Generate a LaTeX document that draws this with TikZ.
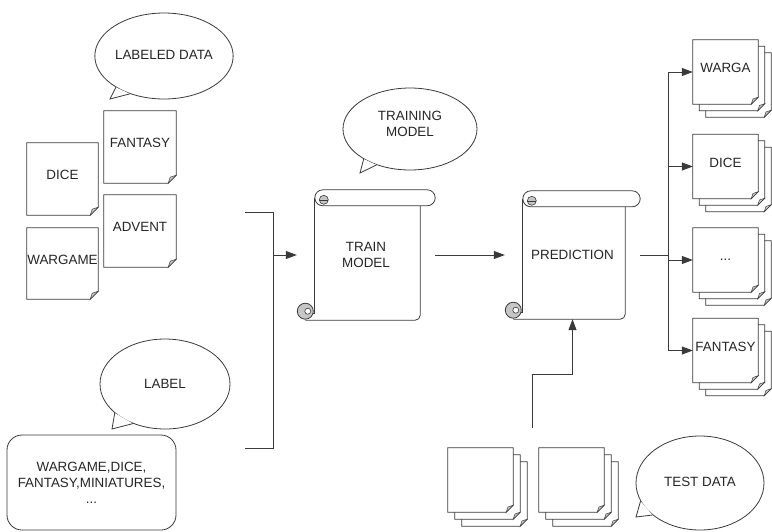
\documentclass[tikz,border=0pt]{standalone}
\usepackage{fontspec}
\setmainfont{Liberation Sans}
\usetikzlibrary{shapes.geometric,arrows.meta,calc}

\pgfdeclarelayer{pagesback}
\pgfdeclarelayer{pagesfront}
\pgfsetlayers{pagesback,pagesfront,main}

\definecolor{ink}{HTML}{3A3A3A}
\definecolor{curl}{HTML}{C6C6C6}

\tikzset{
  base/.style={line width=0.8pt, draw=ink},
  txt/.style={font=\fontsize{13.4}{16}\selectfont, text=black!85},
  arr/.style={base, -{Triangle[length=11pt,width=8pt]}},
  % text sits a little above the middle of a sheet
  page/.style 2 args={txt, inner sep=0pt, text height=9.6pt, text depth=8pt,
    minimum width=#1pt, minimum height=#2pt, align=center},
  bubble/.style 2 args={base, fill=white, ellipse, inner sep=0pt, minimum width=#1pt, minimum height=#2pt, txt, align=center},
  scrollnode/.style 2 args={txt, inner sep=0pt, minimum width=#1pt, minimum height=#2pt, align=center},
}

% sheet with a dog-eared bottom-right corner, the size of node #1,
% shifted by (#2,#3), fold size #4
\newcommand\sheet[4]{%
  \draw[base, fill=white]
    ([shift={(#2,#3)}]#1.north west) -- ([shift={(#2,#3)}]#1.north east)
    -- ([shift={(#2,#3-#4)}]#1.south east) -- ([shift={(#2-#4,#3)}]#1.south east)
    -- ([shift={(#2,#3)}]#1.south west) -- cycle;
  \filldraw[base, fill=curl, line width=0.5pt]
    ([shift={(#2,#3-#4)}]#1.south east) -- ([shift={(#2-#4,#3)}]#1.south east)
    -- ([shift={(#2-0.75*#4,#3-0.75*#4)}]#1.south east) -- cycle;
}

% scroll outline around node #1
\newcommand\scrollbody[1]{%
  % body fill
  \fill[white] ($(#1.north west)+(18,8)$) -- ($(#1.north east)+(-15,8)$)
    -- ($(#1.south east)+(-15,0)$) -- ($(#1.south west)+(8,0)$) -- cycle;
  % right edge and bottom edge
  \draw[base, rounded corners=5pt] ($(#1.north east)+(-15,16)$)
    -- ($(#1.south east)+(-15,0)$) -- ($(#1.south west)+(8.5,0)$);
  % left edge
  \draw[base] ($(#1.north west)+(18,8)$) -- ($(#1.south west)+(18,-7)$)
    -- ($(#1.south west)+(12,-7)$);
  % top roll
  \draw[base, fill=white, rounded corners=8pt] ($(#1.north west)+(18,0)$) rectangle ($(#1.north east)+(0,16)$);
  \filldraw[base, fill=curl, line width=0.6pt] ($(#1.north west)+(27,10)$) circle (4.5pt);
  \draw[base, line width=0.6pt] ($(#1.north west)+(22.5,10)$) -- ($(#1.north west)+(31.5,10)$);
  % bottom curl
  \filldraw[base, fill=curl] ($(#1.south west)+(8.5,-9)$) circle (8pt);
  \filldraw[base, fill=white, line width=0.6pt] ($(#1.south west)+(11,-9)$) circle (3pt);
}

\begin{document}
\begin{tikzpicture}[x=1pt, y=-1pt]
\useasboundingbox (0,0) rectangle (772,531);

% ---------- callouts ----------
\node[bubble={128}{86}] (cLD) at (164,56) {LABELED DATA\vphantom{g}};
\coordinate (tLD) at (110,99);
\node[bubble={134}{82}, label={[txt, align=center, yshift=5pt]center:TRAINING\\MODEL}] (cTM) at (410,129) {};
\coordinate (tTM) at (360,173);
\node[bubble={130}{90}] (cLB) at (165,384) {LABEL};
\coordinate (tLB) at (112,429);
\node[bubble={128}{94}] (cTD) at (700,483) {TEST DATA\vphantom{g}};
\coordinate (tTD) at (636,517);

\foreach \c/\a/\b in {LD/213/228, TM/213/227, LB/210/231, TD/197/214}{
  \fill[white] (c\c.\a) -- (t\c) -- (c\c.\b) -- cycle;
  \draw[base] (c\c.\a) -- (t\c) -- (c\c.\b);
}

% ---------- labeled data sheets ----------
\node[page={71}{72}] (dDice) at (62.5,179) {DICE};
\node[page={71}{71}] (dWar)  at (62.5,263.5) {WARGAME};
\node[page={72}{72}] (dFan)  at (140,147) {FANTASY};
\node[page={72}{72}] (dAdv)  at (140,231) {ADVENT};
\begin{pgfonlayer}{pagesfront}
  \foreach \n in {dDice,dWar,dFan,dAdv}{\sheet{\n}{0}{0}{8}}
\end{pgfonlayer}

% ---------- label box ----------
\node[base, draw, fill=white, rounded corners=15pt, minimum width=169pt, minimum height=95pt,
      txt, align=center] (lbox) at (91.5,482.5) {WARGAME,DICE,\\FANTASY,MINIATURES,\\...};

% ---------- scrolls ----------
\node[scrollnode={138}{130}] (train) at (366,255) {TRAIN\\MODEL};
\node[scrollnode={135}{128}] (pred)  at (572.5,255) {PREDICTION};
\begin{pgfonlayer}{pagesfront}
  \scrollbody{train}
  \scrollbody{pred}
\end{pgfonlayer}

% ---------- output stacks ----------
\node[page={65}{64}] (o1) at (725.5,72)    {WARGA};
\node[page={65}{64}] (o2) at (725.5,166.5) {DICE};
\node[page={65}{64}] (o3) at (725.5,260)   {...};
\node[page={65}{64}] (o4) at (725.5,350.5) {FANTASY};
% ---------- test data stacks ----------
\node[page={65}{64}] (t1) at (480.5,480) {};
\node[page={65}{64}] (t2) at (571.5,480) {};

\begin{pgfonlayer}{pagesback}
  \foreach \n in {o1,o2,o3,o4}{\sheet{\n}{13}{13}{7}\sheet{\n}{6.5}{6.5}{7}}
  \foreach \n in {t1,t2}{\sheet{\n}{14}{14}{7}\sheet{\n}{7}{7}{7}}
\end{pgfonlayer}
\begin{pgfonlayer}{pagesfront}
  \foreach \n in {o1,o2,o3,o4,t1,t2}{\sheet{\n}{0}{0}{7}}
\end{pgfonlayer}

% ---------- connectors ----------
\coordinate (bt)  at (245,212);
\coordinate (bjt) at (273,212);
\coordinate (bjb) at (273,448);
\coordinate (bb)  at (245,448);
\draw[base] (bt) -- (bjt) -- (bjb) -- (bb);
\draw[arr] (bjt |- train.west) -- (train.west);

\draw[arr] (train.east) -- (pred.west);

\coordinate (tin)   at (532,428);
\coordinate (tbend) at (532,374);
\draw[arr] (tin) -- (tbend) -| (pred.south);

\coordinate (fj) at (668,255);
\draw[base] (pred.east) -- (fj);
\draw[base] (fj |- o1.west) -- (fj |- o4.west);
\foreach \n in {o1,o2,o3,o4}{\draw[arr] (fj |- \n.west) -- (\n.west);}

\end{tikzpicture}
\end{document}
